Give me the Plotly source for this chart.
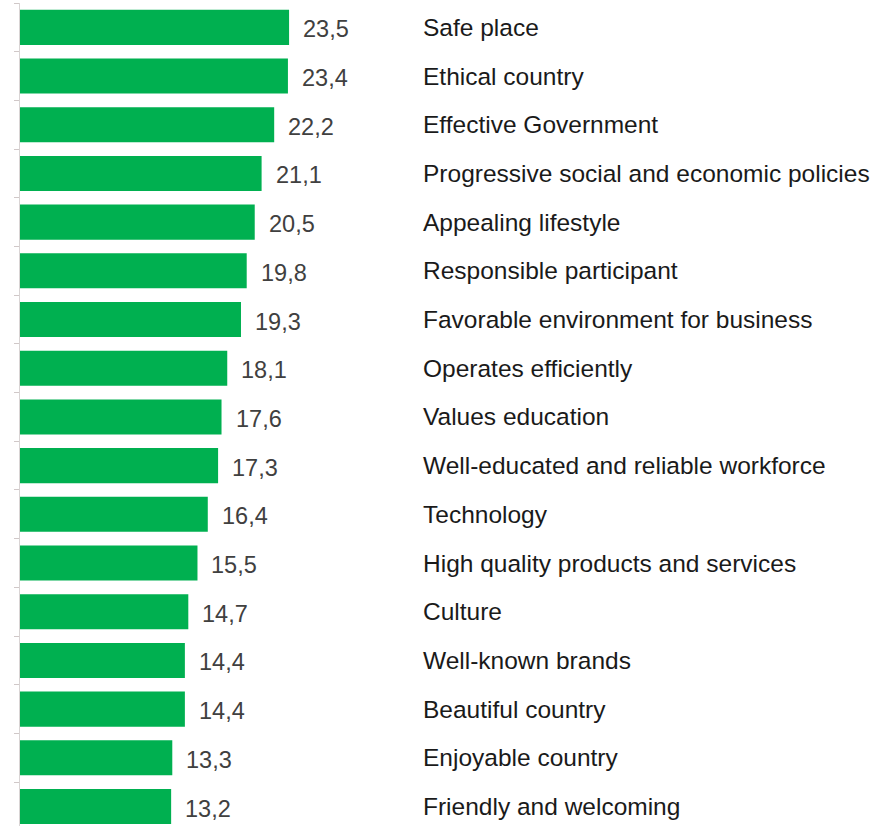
import plotly.graph_objects as go

categories = ["Safe place", "Ethical country", "Effective Government",
              "Progressive social and economic policies", "Appealing lifestyle",
              "Responsible participant", "Favorable environment for business",
              "Operates efficiently", "Values education",
              "Well-educated and reliable workforce", "Technology",
              "High quality products and services", "Culture", "Well-known brands",
              "Beautiful country", "Enjoyable country", "Friendly and welcoming"]
values = [23.5, 23.4, 22.2, 21.1, 20.5, 19.8, 19.3, 18.1, 17.6, 17.3, 16.4,
          15.5, 14.7, 14.4, 14.4, 13.3, 13.2]
value_labels = [f"{v:.1f}".replace(".", ",") for v in values]

pos = list(range(len(categories)))
W, H = 875, 826
L = 20
plot_w = W - L
xmax = plot_w / 11.45

fig = go.Figure(go.Bar(x=values, y=pos, orientation="h",
                       marker=dict(color="#00b050", line=dict(width=0)),
                       width=0.72, hoverinfo="skip"))

for i, (v, t, c) in enumerate(zip(values, value_labels, categories)):
    fig.add_annotation(x=v, y=i, xref="x", yref="y", text=t, showarrow=False,
                       xanchor="left", xshift=12, yshift=-2,
                       font=dict(family="Liberation Sans, Arial", size=23.5, color="#404040"))
    fig.add_annotation(x=(421 - L) / plot_w, y=i, xref="paper", yref="y", text=c,
                       showarrow=False, xanchor="left", yshift=0,
                       font=dict(family="Liberation Sans, Arial", size=24.5, color="#1a1a1a"))

fig.update_layout(
    width=W, height=H, margin=dict(l=L, r=0, t=3, b=0),
    paper_bgcolor="white", plot_bgcolor="white", showlegend=False,
    xaxis=dict(range=[0, xmax], visible=False, fixedrange=True),
    yaxis=dict(range=[16.4, -0.5], tickmode="array",
               tickvals=[p - 0.5 for p in pos] + [16.5], ticktext=[""] * 18,
               ticks="outside", ticklen=5, tickcolor="#d0c8c8",
               showline=True, linecolor="#d9d4d4", linewidth=1,
               showgrid=False, zeroline=False, showticklabels=False),
)
fig.write_html("out.html", config={"displayModeBar": False},
               post_script="document.body.style.margin='0';document.body.style.overflow='hidden';")
